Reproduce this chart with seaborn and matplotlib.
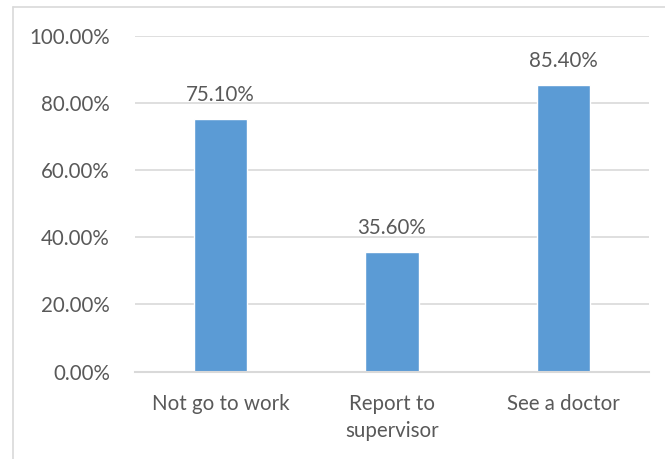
import matplotlib
matplotlib.use("Agg")
import matplotlib.pyplot as plt
from matplotlib.lines import Line2D
import seaborn as sns
import pandas as pd

categories = ["Not go to work", "Report to\nsupervisor", "See a doctor"]
percentages = [75.10, 35.60, 85.40]
y_ticks = [0, 20, 40, 60, 80, 100]

sns.set_theme(style="white")
plt.rcParams["font.family"] = ["Lato", "DejaVu Sans"]

W, H = 665, 459
fig = plt.figure(figsize=(W / 100, H / 100), dpi=100)
ax = fig.add_axes([135 / W, (H - 371.5) / H, (649 - 135) / W, (371.5 - 35.5) / H])

df = pd.DataFrame({"category": categories, "value": percentages})
sns.barplot(data=df, x="category", y="value", color="#5B9BD5", saturation=1,
            width=0.31, ax=ax)

text_color = "#595959"
grid_color = "#D9D9D9"
font_size = 14.8

ax.set_ylim(0, 100)
ax.set_yticks(y_ticks)
ax.set_yticklabels([f"{t:.2f}%" for t in y_ticks])
ax.set_xlabel("")
ax.set_ylabel("")
ax.yaxis.grid(True, color=grid_color, linewidth=1.2)
ax.set_axisbelow(True)
for side in ("top", "right", "left"):
    ax.spines[side].set_visible(False)
ax.spines["bottom"].set_color(grid_color)
ax.spines["bottom"].set_linewidth(1.5)
ax.tick_params(axis="both", length=0, labelsize=font_size, colors=text_color)
ax.tick_params(axis="y", pad=18)
ax.tick_params(axis="x", pad=16.5)
for lbl in ax.get_xticklabels():
    lbl.set_linespacing(1.42)
    lbl.set_verticalalignment("top")

for patch, val in zip(ax.patches, percentages):
    ax.annotate(f"{val:.2f}%", (patch.get_x() + patch.get_width() / 2, val),
                xytext=(0, 10), textcoords="offset points",
                ha="center", va="bottom", fontsize=font_size, color=text_color)

# chart frame
fig.add_artist(Line2D([12.5 / W, 12.5 / W], [0, 1 - 6.5 / H], transform=fig.transFigure,
                      color=grid_color, linewidth=1.2))
fig.add_artist(Line2D([12.5 / W, 1], [1 - 6.5 / H, 1 - 6.5 / H], transform=fig.transFigure,
                      color=grid_color, linewidth=1.2))

fig.savefig("out.png", dpi=100)
